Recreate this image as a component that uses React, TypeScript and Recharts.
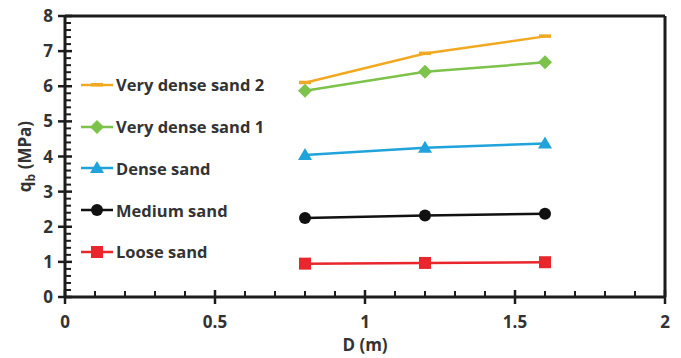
import React from "react";
import {
  LineChart,
  Line,
  XAxis,
  YAxis,
  Legend,
  ReferenceLine,
} from "recharts";

// depth of pile base, m
const D_VALUES = [0.8, 1.2, 1.6];

// q_b (MPa) per sand state
const VERY_DENSE_2 = [6.1, 6.93, 7.42];
const VERY_DENSE_1 = [5.87, 6.41, 6.68];
const DENSE = [4.04, 4.25, 4.37];
const MEDIUM = [2.25, 2.32, 2.37];
const LOOSE = [0.95, 0.97, 0.99];

const X_MAJOR_TICKS = [0, 0.5, 1, 1.5, 2];
const Y_MAJOR_TICKS = [0, 1, 2, 3, 4, 5, 6, 7, 8];

const FONT = "'Open Sans', 'Noto Sans', sans-serif";
const TEXT_COLOR = "#333";
const AXIS_COLOR = "#1c1c1c";

type Shape = "dash" | "diamond" | "triangle" | "circle" | "square";

const SERIES: { key: string; name: string; color: string; shape: Shape }[] = [
  { key: "vds2", name: "Very dense sand 2", color: "#F2A922", shape: "dash" },
  { key: "vds1", name: "Very dense sand 1", color: "#7DC24B", shape: "diamond" },
  { key: "dense", name: "Dense sand", color: "#1FA3DA", shape: "triangle" },
  { key: "medium", name: "Medium sand", color: "#111111", shape: "circle" },
  { key: "loose", name: "Loose sand", color: "#E8262B", shape: "square" },
];

const data = D_VALUES.map((d, i) => ({
  d,
  vds2: VERY_DENSE_2[i],
  vds1: VERY_DENSE_1[i],
  dense: DENSE[i],
  medium: MEDIUM[i],
  loose: LOOSE[i],
}));

// minor ticks: every 0.1 on x, every 0.2 on y
const xTicks = Array.from({ length: 21 }, (_, i) => +(i * 0.1).toFixed(1));
const yTicks = Array.from({ length: 41 }, (_, i) => +(i * 0.2).toFixed(1));

const isMajor = (v: number, majors: number[]) =>
  majors.some((m) => Math.abs(m - v) < 1e-6);

function Marker({ shape, cx, cy, color }: { shape: Shape; cx: number; cy: number; color: string }) {
  switch (shape) {
    case "dash":
      return <rect x={cx - 6} y={cy - 2} width={12} height={3.5} fill={color} />;
    case "diamond":
      return (
        <polygon
          points={`${cx},${cy - 7} ${cx + 7},${cy} ${cx},${cy + 7} ${cx - 7},${cy}`}
          fill={color}
        />
      );
    case "triangle":
      return (
        <polygon
          points={`${cx},${cy - 7} ${cx + 7},${cy + 5} ${cx - 7},${cy + 5}`}
          fill={color}
        />
      );
    case "circle":
      return <circle cx={cx} cy={cy} r={6} fill={color} />;
    default:
      return <rect x={cx - 6} y={cy - 6} width={12} height={12} fill={color} />;
  }
}

function XTick({ x, y, payload }: any) {
  const v = payload.value as number;
  if (!isMajor(v, X_MAJOR_TICKS)) {
    return <line x1={x} x2={x} y1={y - 6} y2={y} stroke={AXIS_COLOR} strokeWidth={2} />;
  }
  return (
    <g>
      <line x1={x} x2={x} y1={y - 7} y2={y + 7} stroke={AXIS_COLOR} strokeWidth={2.5} />
      <text
        x={x}
        y={y + 31}
        textAnchor="middle"
        fill={TEXT_COLOR}
        fontFamily={FONT}
        fontWeight={700}
        fontSize={17}
      >
        {String(v)}
      </text>
    </g>
  );
}

function YTick({ x, y, payload }: any) {
  const v = payload.value as number;
  if (!isMajor(v, Y_MAJOR_TICKS)) {
    return <line x1={x} x2={x + 6} y1={y} y2={y} stroke={AXIS_COLOR} strokeWidth={2} />;
  }
  return (
    <g>
      <line x1={x - 7} x2={x + 7} y1={y} y2={y} stroke={AXIS_COLOR} strokeWidth={2.5} />
      <text
        x={x - 12}
        y={y + 6}
        textAnchor="end"
        fill={TEXT_COLOR}
        fontFamily={FONT}
        fontWeight={700}
        fontSize={17}
      >
        {String(v)}
      </text>
    </g>
  );
}

function LegendContent() {
  return (
    <div style={{ fontFamily: FONT, fontWeight: 700, fontSize: 16.5, color: TEXT_COLOR }}>
      {SERIES.map((s) => (
        <div key={s.key} style={{ height: 41.75, display: "flex", alignItems: "center" }}>
          <svg width={36} height={20}>
            <line x1={2} x2={34} y1={10} y2={10} stroke={s.color} strokeWidth={2.5} />
            <Marker shape={s.shape} cx={18} cy={10} color={s.color} />
          </svg>
          <span style={{ marginLeft: 1, whiteSpace: "nowrap" }}>{s.name}</span>
        </div>
      ))}
    </div>
  );
}

export default function App() {
  return (
    <div style={{ position: "absolute", left: 0, top: 0, background: "#fff" }}>
      <LineChart
        width={681}
        height={358}
        data={data}
        margin={{ top: 16, right: 16, bottom: 0, left: 0 }}
      >
        <XAxis
          dataKey="d"
          type="number"
          domain={[0, 2]}
          ticks={xTicks}
          interval={0}
          height={61}
          tickSize={0}
          tickMargin={0}
          tickLine={false}
          tick={<XTick />}
          axisLine={{ stroke: AXIS_COLOR, strokeWidth: 3 }}
          label={{
            content: ({ viewBox }: any) => (
              <text
                x={viewBox.x + viewBox.width / 2}
                y={viewBox.y + 54}
                textAnchor="middle"
                fill={TEXT_COLOR}
                fontFamily={FONT}
                fontWeight={700}
                fontSize={17}
              >
                D (m)
              </text>
            ),
          }}
        />
        <YAxis
          type="number"
          domain={[0, 8]}
          ticks={yTicks}
          interval={0}
          width={65}
          tickSize={0}
          tickMargin={0}
          tickLine={false}
          tick={<YTick />}
          axisLine={{ stroke: AXIS_COLOR, strokeWidth: 3 }}
          label={{
            content: ({ viewBox }: any) => {
              const cx = 31;
              const cy = viewBox.y + viewBox.height / 2;
              return (
                <text
                  x={cx}
                  y={cy}
                  textAnchor="middle"
                  transform={`rotate(-90, ${cx}, ${cy})`}
                  fill={TEXT_COLOR}
                  fontFamily={FONT}
                  fontWeight={700}
                  fontSize={17}
                >
                  <tspan>q</tspan>
                  <tspan dy={4} fontSize={12}>b</tspan>
                  <tspan dy={-4}> (MPa)</tspan>
                </text>
              );
            },
          }}
        />
        <ReferenceLine y={8} stroke={AXIS_COLOR} strokeWidth={3} />
        <ReferenceLine x={2} stroke={AXIS_COLOR} strokeWidth={3} />
        {SERIES.map((s) => (
          <Line
            key={s.key}
            dataKey={s.key}
            name={s.name}
            stroke={s.color}
            strokeWidth={2.5}
            isAnimationActive={false}
            dot={(p: any) => (
              <Marker key={`${s.key}-${p.index}`} shape={s.shape} cx={p.cx} cy={p.cy} color={s.color} />
            )}
            activeDot={false}
          />
        ))}
        <Legend
          layout="vertical"
          align="center"
          verticalAlign="middle"
          content={<LegendContent />}
          wrapperStyle={{ position: "absolute", left: 79, top: 64, width: "auto" }}
        />
      </LineChart>
    </div>
  );
}
